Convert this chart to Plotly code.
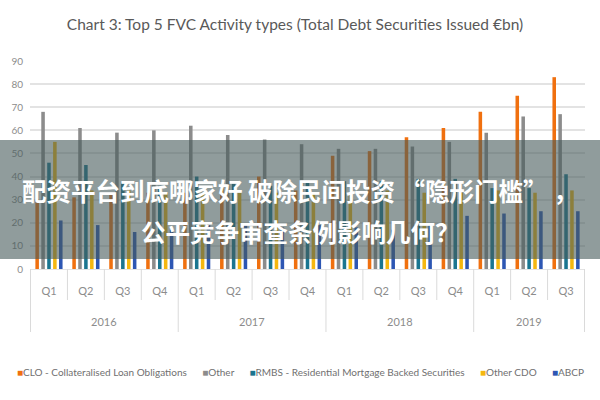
import plotly.graph_objects as go

years = ["2016"] * 4 + ["2017"] * 4 + ["2018"] * 4 + ["2019"] * 3
quarters = ["Q1", "Q2", "Q3", "Q4"] * 3 + ["Q1", "Q2", "Q3"]

clo = [30, 31, 32, 33, 33, 35, 40, 34, 49, 51, 57, 61, 68, 75, 83]
other = [68, 61, 59, 60, 62, 58, 56, 54, 52, 52, 53, 55, 59, 66, 67]
rmbs = [46, 45, 37, 36, 40, 37, 36, 38, 38, 38, 39, 39, 35, 35, 41]
other_cdo = [55, 34, 34, 33, 33, 33, 33, 33, 32, 34, 33, 33, 34, 33, 34]
abcp = [21, 19, 16, 17, 19, 19, 18, 19, 18, 17, 19, 23, 24, 25, 25]

series = [
    ("CLO - Collateralised Loan Obligations", clo, "#F0700F"),
    ("Other", other, "#8C8C8C"),
    ("RMBS - Residential Mortgage Backed Securities", rmbs, "#1A7590"),
    ("Other CDO", other_cdo, "#F5B70F"),
    ("ABCP", abcp, "#2D56B3"),
]

title_text = "Chart 3: Top 5 FVC Activity types (Total Debt Securities Issued €bn)"
overlay_1 = "配资平台到底哪家好 破除民间投资“隐形门槛”，"
overlay_2 = "公平竞争审查条例影响几何？"

font_fam = "Lato, Roboto, sans-serif"
cats = [y + " " + q for y, q in zip(years, quarters)]

fig = go.Figure()
for name, vals, col in series:
    fig.add_trace(go.Bar(x=cats, y=vals, name=name,
                         marker=dict(color=col, line=dict(width=0))))

W, H = 600, 400
L, R, T, B = 30, 15, 61, 131
pw, ph = W - L - R, H - T - B

def px_x(x):
    return (x - L) / pw

def px_y(y):
    return (H - B - y) / ph

fig.update_layout(
    width=W, height=H,
    margin=dict(l=L, r=R, t=T, b=B, autoexpand=False),
    paper_bgcolor="white", plot_bgcolor="white",
    barmode="group", bargap=0.2, bargroupgap=0.4,
    font=dict(family=font_fam, color="#8C8C8C", size=10),
    title=dict(text=title_text, x=295 / W, xanchor="center", y=1 - 25 / H, yanchor="middle",
               font=dict(size=15.5, color="#595959", family=font_fam)),
    yaxis=dict(range=[0, 90], dtick=10, showgrid=True, gridcolor="#E3E3E3", gridwidth=1.5,
               zeroline=False, showline=False, ticks="", ticklabelstandoff=6,
               tickfont=dict(size=10, color="#8C8C8C")),
    xaxis=dict(type="category", showgrid=False, showline=True, linecolor="#E3E3E3",
               tickvals=cats, ticktext=quarters, ticks="",
               ticklabelstandoff=12,
               tickfont=dict(size=11, color="#8C8C8C")),
    showlegend=False,
)

# axis separators between quarters and between years
ycut = -31 / ph
ydiv = -63 / ph
n = len(cats)
year_starts = [i for i in range(n) if i == 0 or years[i] != years[i - 1]]
for i in range(n + 1):
    is_year = i in year_starts or i == n
    fig.add_shape(type="line", xref="x", yref="paper", x0=i - 0.5, x1=i - 0.5,
                  y0=0, y1=ydiv if is_year else ycut,
                  line=dict(color="#DADADA", width=1))

# year labels
for k, s in enumerate(year_starts):
    e = year_starts[k + 1] if k + 1 < len(year_starts) else n
    fig.add_annotation(text=years[s], xref="x", yref="paper", x=(s + e - 1) / 2,
                       y=px_y(321), showarrow=False, xanchor="center", yanchor="middle",
                       font=dict(size=11, color="#8C8C8C", family=font_fam))

# legend as compact text line
parts = []
for name, vals, col in series:
    parts.append('<span style="color:%s">■</span>%s' % (col, name))
fig.add_annotation(text=("\u00a0" * 6).join(parts), xref="paper", yref="paper",
                   x=px_x(300), y=px_y(372), showarrow=False, xanchor="center", yanchor="middle",
                   font=dict(size=10, color="#707070", family=font_fam))

fig.add_shape(type="rect", xref="paper", yref="paper",
              x0=px_x(0), x1=px_x(600), y0=px_y(259), y1=px_y(140),
              fillcolor="rgba(70,90,90,0.6)", line=dict(width=0), layer="above")

cjk = "Noto Sans CJK SC, sans-serif"
line1 = overlay_1.replace("“", "\u00a0“").replace("”", "”\u00a0")
fig.add_annotation(text="<b>" + line1 + "</b>", xref="paper", yref="paper",
                   x=px_x(300), y=px_y(190), showarrow=False, xanchor="center", yanchor="middle",
                   font=dict(family=cjk, size=24.5, color="white"))
fig.add_annotation(text="<b>" + overlay_2 + "</b>", xref="paper", yref="paper",
                   x=px_x(300), y=px_y(231), showarrow=False, xanchor="center", yanchor="middle",
                   font=dict(family=cjk, size=24.5, color="white"))

fig.write_html("out.html")
